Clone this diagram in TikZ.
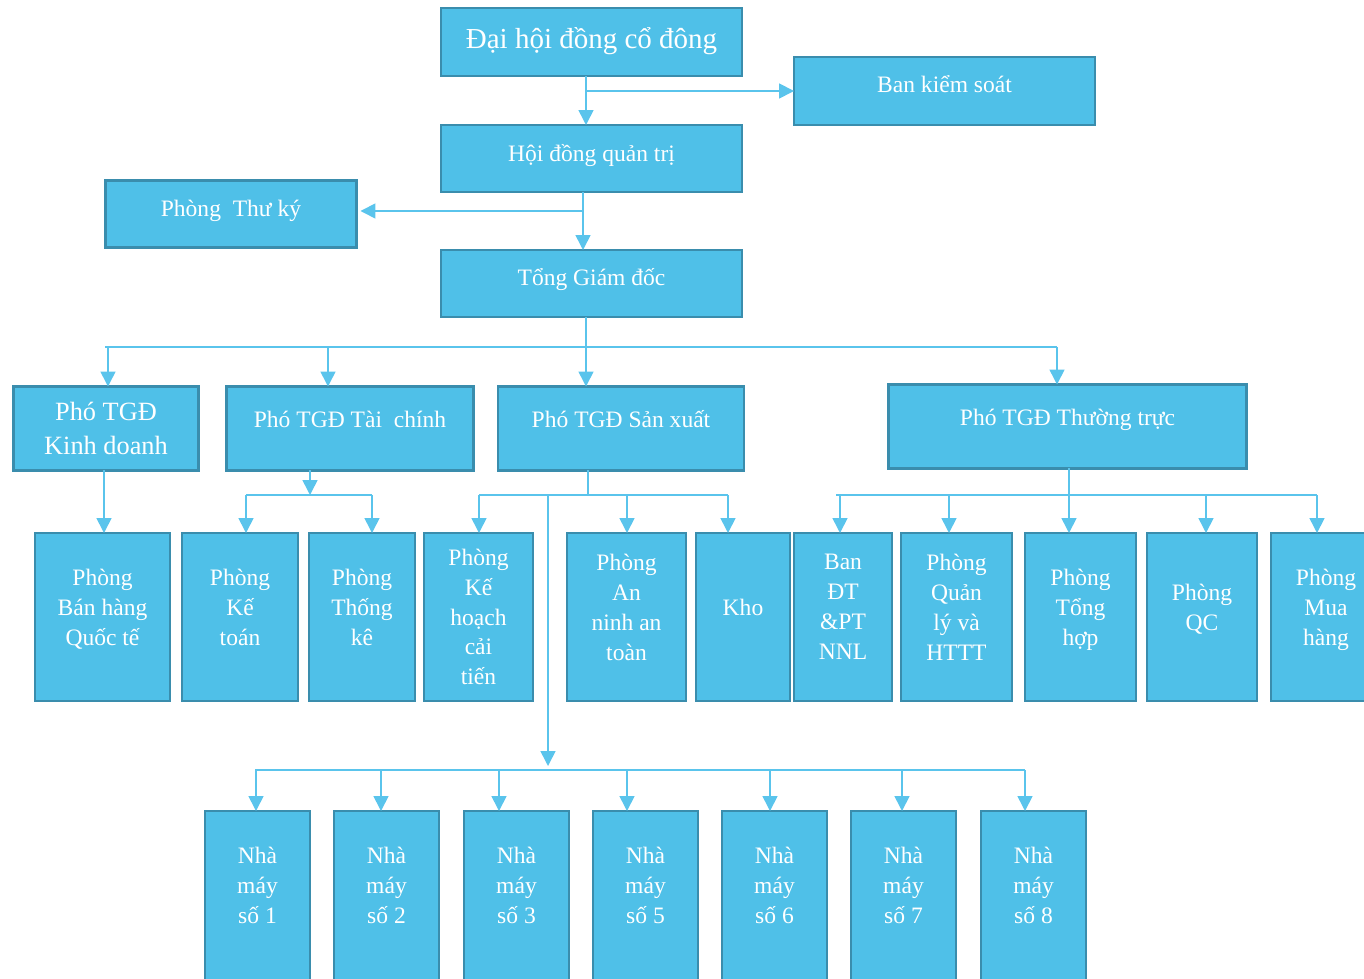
\documentclass[tikz,border=0pt]{standalone}
\usepackage{fontspec}
\setmainfont{Liberation Serif}
\usetikzlibrary{arrows.meta,calc}

\definecolor{boxfill}{HTML}{4FC0E8}
\definecolor{boxedge}{HTML}{3A8DAD}
\definecolor{linecol}{HTML}{5AC4EC}

\begin{document}
\begin{tikzpicture}[x=0.02cm,y=-0.02cm,
	box/.style={draw=boxedge,fill=boxfill,line width=1.4pt,text=white,align=center,
		inner sep=0pt,outer sep=0pt,font=\fontsize{13.4}{17}\selectfont},
	lift/.style={execute at end node={\rule[-#1]{0pt}{0pt}}},
	conn/.style={draw=linecol,line width=0.9pt},
	arr/.style={conn,-{Triangle[length=8.5pt,width=8.5pt]}}]
	\useasboundingbox (0,0) rectangle (1364,979);
	\clip (0,0) rectangle (1364,979);

	% top levels
	\node[box,lift=4.5pt,minimum width=6.02cm,minimum height=1.36cm,font=\fontsize{16.5}{20}\selectfont] (dhdcd) at (591.5,42) {Đại hội đồng cổ đông};
	\node[box,lift=7.9pt,minimum width=6.02cm,minimum height=1.36cm] (bks) at (944.5,91) {Ban kiểm soát};
	\node[box,lift=6.8pt,minimum width=6.02cm,minimum height=1.34cm] (hdqt) at (591.5,158.5) {Hội đồng quản trị};
	\node[box,lift=6.8pt,minimum width=5.02cm,minimum height=1.34cm] (thuky) at (231,214) {Phòng\ \ Thư ký};
	\node[box,lift=7.9pt,minimum width=6.02cm,minimum height=1.34cm] (tgd) at (591.5,283.5) {Tổng Giám đốc};

	% pho TGD
	\node[box,minimum width=3.70cm,minimum height=1.68cm,font=\fontsize{15}{19}\selectfont] (kd) at (106,428.5) {Phó TGĐ\\Kinh doanh};
	\node[box,lift=10.8pt,minimum width=4.94cm,minimum height=1.68cm] (tc) at (350,428.5) {Phó TGĐ Tài\ \ chính};
	\node[box,lift=11.3pt,minimum width=4.92cm,minimum height=1.68cm] (sx) at (621,428.5) {Phó TGĐ Sản xuất};
	\node[box,lift=10.8pt,minimum width=7.16cm,minimum height=1.68cm] (tt) at (1067.5,426.5) {Phó TGĐ Thường trực};

	% phong ban
	\begin{scope}[every node/.append style={box,minimum height=3.36cm}]
		\node[lift=11.3pt,minimum width=2.70cm] (bhqt) at (102.5,617) {Phòng\\Bán hàng\\Quốc tế};
		\node[lift=11.3pt,minimum width=2.32cm] (ketoan) at (240,617) {Phòng\\Kế\\toán};
		\node[lift=11.3pt,minimum width=2.12cm] (thongke) at (362,617) {Phòng\\Thống\\kê};
		\node[minimum width=2.18cm] (khct) at (478.5,617) {Phòng\\Kế\\hoạch\\cải\\tiến};
		\node[lift=11.3pt,minimum width=2.38cm] (anat) at (626.5,617) {Phòng\\An\\ninh an\\toàn};
		\node[lift=11.3pt,minimum width=1.88cm] (kho) at (743,617) {Kho};
		\node[lift=11.3pt,minimum width=1.96cm] (bandt) at (843,617) {Ban\\ĐT\\\&PT\\NNL};
		\node[lift=11.3pt,minimum width=2.22cm] (qlht) at (956.5,617) {Phòng\\Quản\\lý và\\HTTT};
		\node[lift=11.3pt,minimum width=2.22cm] (tonghop) at (1080.5,617) {Phòng\\Tổng\\hợp};
		\node[lift=11.3pt,minimum width=2.20cm] (qc) at (1202,617) {Phòng\\QC};
		\node[lift=11.3pt,minimum width=2.20cm] (muahang) at (1326,617) {Phòng\\Mua\\hàng};
	\end{scope}

	% nha may
	\foreach \n/\x/\t in {nm1/257.5/1,nm2/386.5/2,nm3/516.5/3,nm5/645.5/5,nm6/774.5/6,nm7/903.5/7,nm8/1033.5/8}
		\node[box,lift=17.6pt,minimum width=2.10cm,minimum height=3.58cm] (\n) at (\x,900.5) {Nhà\\máy\\số \t};

	% connectors
	\coordinate (d1) at (586,91);
	\draw[arr] (d1 |- dhdcd.south) -- (d1 |- hdqt.north);
	\draw[arr] (d1) -- (d1 -| bks.west);
	\coordinate (d2) at (583,211);
	\draw[arr] (d2 |- hdqt.south) -- (d2 |- tgd.north);
	\draw[arr] (d2) -- ($(d2 -| thuky.east)+(4,0)$);

	\coordinate (b1) at (586,347);
	\draw[conn] (105,347) -- (1057,347);
	\draw[conn] (b1 |- tgd.south) -- (b1);
	\foreach \n/\x in {kd/108,tc/328,sx/586,tt/1057}
		\draw[arr] (\x,347) -- (\x,347 |- \n.north);

	\draw[arr] (kd.south -| 104,0) -- (104,0 |- bhqt.north);

	\coordinate (b2) at (310,495);
	\draw[arr] (b2 |- tc.south) -- (b2);
	\draw[conn] (246,495) -- (372,495);
	\foreach \n/\x in {ketoan/246,thongke/372}
		\draw[arr] (\x,495) -- (\x,495 |- \n.north);

	\coordinate (b3) at (588,495);
	\draw[conn] (b3 |- sx.south) -- (b3);
	\draw[conn] (479,495) -- (728,495);
	\foreach \n/\x in {khct/479,anat/627,kho/728}
		\draw[arr] (\x,495) -- (\x,495 |- \n.north);

	\coordinate (b4) at (1069,495);
	\draw[conn] (b4 |- tt.south) -- (b4);
	\draw[conn] (836,495) -- (1317,495);
	\foreach \n/\x in {bandt/840,qlht/949,tonghop/1069,qc/1206,muahang/1317}
		\draw[arr] (\x,495) -- (\x,495 |- \n.north);

	\coordinate (b5) at (548,770);
	\draw[arr] (548,495) -- ($(b5)+(0,-4)$);
	\draw[conn] (255,770) -- (1025,770);
	\foreach \n/\x in {nm1/256,nm2/381,nm3/499,nm5/627,nm6/770,nm7/902,nm8/1025}
		\draw[arr] (\x,770) -- (\x,770 |- \n.north);
\end{tikzpicture}
\end{document}
